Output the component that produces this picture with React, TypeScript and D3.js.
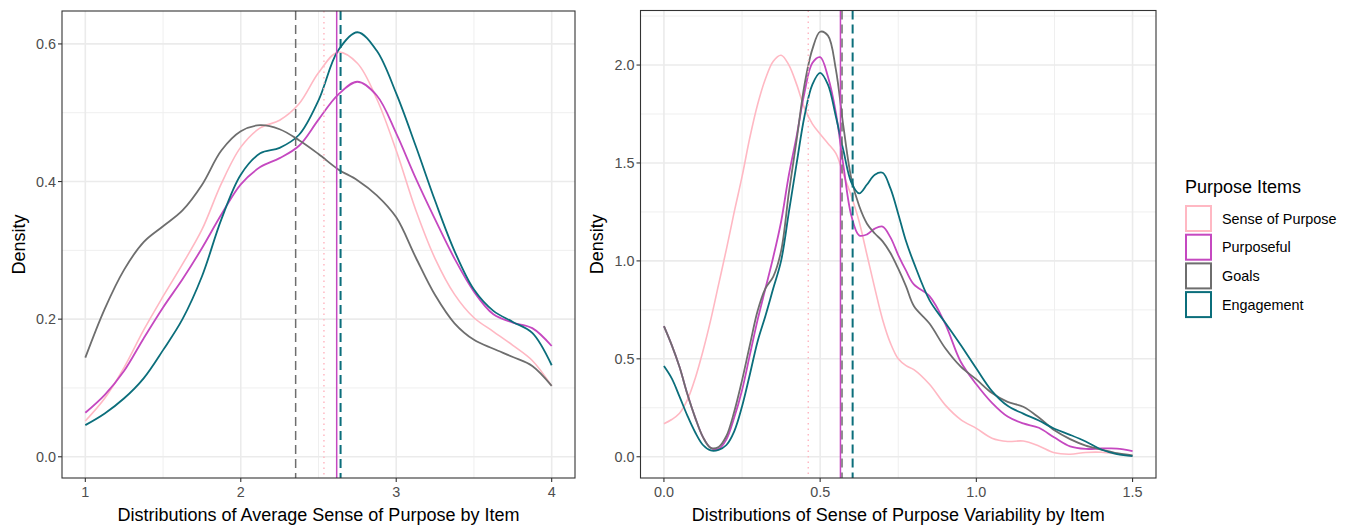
import React from "react";
import * as d3 from "d3";

// ---- data ----
const items = ["Sense of Purpose", "Purposeful", "Goals", "Engagement"];

// left panel: density of average sense of purpose
const avgX = [1, 1.125, 1.25, 1.375, 1.5, 1.625, 1.75, 1.875, 2, 2.125, 2.25, 2.375, 2.5,
  2.625, 2.75, 2.875, 3, 3.125, 3.25, 3.375, 3.5, 3.625, 3.75, 3.875, 4];
const avgSense = [0.052, 0.085, 0.13, 0.184, 0.233, 0.28, 0.33, 0.397, 0.45, 0.478, 0.489, 0.513, 0.558,
  0.588, 0.572, 0.52, 0.445, 0.359, 0.288, 0.236, 0.202, 0.182, 0.162, 0.14, 0.103];
const avgPurposeful = [0.064, 0.09, 0.125, 0.172, 0.217, 0.258, 0.303, 0.352, 0.396, 0.421, 0.434, 0.452, 0.49,
  0.526, 0.545, 0.525, 0.47, 0.405, 0.345, 0.288, 0.24, 0.207, 0.195, 0.187, 0.161];
const avgGoals = [0.144, 0.215, 0.272, 0.312, 0.335, 0.358, 0.395, 0.445, 0.473, 0.482, 0.476, 0.46, 0.44,
  0.418, 0.402, 0.38, 0.348, 0.29, 0.235, 0.194, 0.17, 0.157, 0.145, 0.132, 0.103];
const avgEngagement = [0.046, 0.063, 0.085, 0.114, 0.155, 0.2, 0.262, 0.345, 0.41, 0.441, 0.449, 0.468, 0.518,
  0.59, 0.617, 0.59, 0.528, 0.452, 0.372, 0.299, 0.243, 0.212, 0.196, 0.18, 0.133];
const avgMeans = [2.535, 2.617, 2.353, 2.642];

// right panel: density of sense of purpose variability
const varX = [0, 0.025, 0.05, 0.075, 0.1, 0.125, 0.15, 0.175, 0.2, 0.225, 0.25, 0.275, 0.3, 0.325, 0.35,
  0.375, 0.4, 0.425, 0.45, 0.475, 0.5, 0.525, 0.55, 0.575, 0.6, 0.625, 0.65, 0.675, 0.7, 0.725, 0.75,
  0.775, 0.8, 0.85, 0.9, 0.95, 1.0, 1.05, 1.1, 1.15, 1.2, 1.25, 1.3, 1.35, 1.4, 1.45, 1.5];
const varSense = [0.169, 0.19, 0.222, 0.29, 0.4, 0.54, 0.7, 0.88, 1.06, 1.25, 1.43, 1.63, 1.8, 1.93, 2.02,
  2.05, 2.0, 1.9, 1.78, 1.7, 1.648, 1.6, 1.55, 1.44, 1.33, 1.2, 1.03, 0.86, 0.7, 0.58, 0.5,
  0.465, 0.445, 0.37, 0.265, 0.19, 0.145, 0.095, 0.078, 0.08, 0.055, 0.02, 0.013, 0.022, 0.023, 0.014, 0.003];
const varPurposeful = [0.667, 0.57, 0.458, 0.32, 0.2, 0.1, 0.045, 0.04, 0.089, 0.2, 0.34, 0.52, 0.7, 0.86, 1.02,
  1.2, 1.44, 1.64, 1.86, 2.01, 2.04, 1.94, 1.76, 1.48, 1.23, 1.13, 1.135, 1.165, 1.175, 1.12, 1.03,
  0.95, 0.88, 0.82, 0.68, 0.485, 0.37, 0.275, 0.205, 0.17, 0.148, 0.098, 0.053, 0.04, 0.042, 0.042, 0.029];
const varGoals = [0.667, 0.57, 0.458, 0.32, 0.2, 0.1, 0.045, 0.05, 0.106, 0.23, 0.39, 0.57, 0.745, 0.86, 0.92,
  1.05, 1.35, 1.62, 1.9, 2.08, 2.17, 2.15, 1.98, 1.68, 1.42, 1.28, 1.19, 1.14, 1.1, 1.04, 0.96,
  0.87, 0.77, 0.68, 0.555, 0.46, 0.395, 0.325, 0.28, 0.255, 0.2, 0.135, 0.09, 0.057, 0.037, 0.018, 0.007];
const varEngagement = [0.463, 0.4, 0.307, 0.21, 0.125, 0.06, 0.032, 0.035, 0.06, 0.13, 0.257, 0.42, 0.59, 0.72, 0.86,
  1.0, 1.25, 1.5, 1.74, 1.9, 1.96, 1.9, 1.74, 1.56, 1.4, 1.345, 1.39, 1.44, 1.45, 1.37, 1.24,
  1.1, 0.99, 0.8, 0.685, 0.57, 0.45, 0.335, 0.26, 0.22, 0.185, 0.143, 0.112, 0.078, 0.037, 0.013, 0.003];
const varMeans = [0.462, 0.565, 0.57, 0.604];

const avgXTicks = [1, 2, 3, 4];
const avgXTickLabels = ["1", "2", "3", "4"];
const avgYTicks = [0, 0.2, 0.4, 0.6];
const avgYTickLabels = ["0.0", "0.2", "0.4", "0.6"];
const varXTicks = [0, 0.5, 1, 1.5];
const varXTickLabels = ["0.0", "0.5", "1.0", "1.5"];
const varYTicks = [0, 0.5, 1, 1.5, 2];
const varYTickLabels = ["0.0", "0.5", "1.0", "1.5", "2.0"];

// ---- styles ----
const colors = ["#FFB8C3", "#C548C0", "#6E6E6E", "#0B6E7B"];
const meanDash = ["1.5,4", null, "9,5", "9,5"];
const font = "'Liberation Sans', Arial, Helvetica, sans-serif";

type PanelProps = {
  id: string;
  left: number; right: number; top: number; bottom: number;
  xs: number[];
  series: number[][];
  means: number[];
  xTicks: number[]; xTickLabels: string[];
  yTicks: number[]; yTickLabels: string[];
  xTitle: string;
  yTitleX: number;
};

function Panel(p: PanelProps) {
  const xMin = d3.min(p.xs)!;
  const xMax = d3.max(p.xs)!;
  const xPad = (xMax - xMin) * 0.05;
  const yMax = d3.max(p.series.flat())!;
  const yPad = yMax * 0.05;
  const x = d3.scaleLinear().domain([xMin - xPad, xMax + xPad]).range([p.left, p.right]);
  const y = d3.scaleLinear().domain([-yPad, yMax + yPad]).range([p.bottom, p.top]);

  // minor grid sits half way between the major ticks
  const minor = (ticks: number[], dom: number[]) => {
    const step = ticks[1] - ticks[0];
    const out: number[] = [];
    for (let i = 0; i < ticks.length + 1; i++) {
      const v = ticks[0] + step * (i - 0.5);
      if (v > dom[0] && v < dom[1]) out.push(v);
    }
    return out;
  };
  const xMinor = minor(p.xTicks, x.domain());
  const yMinor = minor(p.yTicks, y.domain());

  const line = d3.line<number>()
    .x((_, i) => x(p.xs[i]))
    .y((d) => y(d))
    .curve(d3.curveCatmullRom.alpha(0.5));

  const cx = (p.left + p.right) / 2;
  const cy = (p.top + p.bottom) / 2;

  return (
    <g>
      <defs>
        <clipPath id={p.id}>
          <rect x={p.left} y={p.top} width={p.right - p.left} height={p.bottom - p.top} />
        </clipPath>
      </defs>
      <rect x={p.left} y={p.top} width={p.right - p.left} height={p.bottom - p.top} fill="white" />
      {xMinor.map((v) => (
        <line key={"xm" + v} x1={x(v)} x2={x(v)} y1={p.top} y2={p.bottom} stroke="#EFEFEF" strokeWidth={1} />
      ))}
      {yMinor.map((v) => (
        <line key={"ym" + v} x1={p.left} x2={p.right} y1={y(v)} y2={y(v)} stroke="#EFEFEF" strokeWidth={1} />
      ))}
      {p.xTicks.map((v) => (
        <line key={"xg" + v} x1={x(v)} x2={x(v)} y1={p.top} y2={p.bottom} stroke="#EBEBEB" strokeWidth={1.6} />
      ))}
      {p.yTicks.map((v) => (
        <line key={"yg" + v} x1={p.left} x2={p.right} y1={y(v)} y2={y(v)} stroke="#EBEBEB" strokeWidth={1.6} />
      ))}
      <g clipPath={`url(#${p.id})`}>
        {p.series.map((s, i) => (
          <path key={"c" + i} d={line(s) || ""} fill="none" stroke={colors[i]} strokeWidth={i === 0 ? 1.6 : 1.8} />
        ))}
        {p.means.map((m, i) => (
          <line key={"m" + i} x1={x(m)} x2={x(m)} y1={p.top} y2={p.bottom}
            stroke={colors[i]} strokeWidth={i === 3 ? 2 : 1.5}
            strokeDasharray={meanDash[i] || undefined} />
        ))}
      </g>
      <rect x={p.left} y={p.top} width={p.right - p.left} height={p.bottom - p.top}
        fill="none" stroke="#333333" strokeWidth={1.1} />
      {p.xTicks.map((v, i) => (
        <g key={"xt" + v}>
          <line x1={x(v)} x2={x(v)} y1={p.bottom} y2={p.bottom + 4} stroke="#333333" strokeWidth={1.1} />
          <text x={x(v)} y={p.bottom + 18.5} textAnchor="middle" fontSize={14.4} fill="#4D4D4D" fontFamily={font}>
            {p.xTickLabels[i]}
          </text>
        </g>
      ))}
      {p.yTicks.map((v, i) => (
        <g key={"yt" + v}>
          <line x1={p.left - 4} x2={p.left} y1={y(v)} y2={y(v)} stroke="#333333" strokeWidth={1.1} />
          <text x={p.left - 6} y={y(v)} dy="0.36em" textAnchor="end" fontSize={14.4} fill="#4D4D4D" fontFamily={font}>
            {p.yTickLabels[i]}
          </text>
        </g>
      ))}
      <text x={cx} y={521} textAnchor="middle" fontSize={18} fill="black" fontFamily={font}>{p.xTitle}</text>
      <text transform={`translate(${p.yTitleX},${cy}) rotate(-90)`} textAnchor="middle" fontSize={18}
        fill="black" fontFamily={font}>Density</text>
    </g>
  );
}

export default function App() {
  const legendTop = 205;
  const legendStep = 28.7;
  return (
    <svg width={1354} height={530} style={{ position: "absolute", left: 0, top: 0, background: "white" }}>
      <rect width={1354} height={530} fill="white" />
      <Panel id="clipA" left={62} right={575} top={11} bottom={478}
        xs={avgX} series={[avgSense, avgPurposeful, avgGoals, avgEngagement]} means={avgMeans}
        xTicks={avgXTicks} xTickLabels={avgXTickLabels} yTicks={avgYTicks} yTickLabels={avgYTickLabels}
        xTitle="Distributions of Average Sense of Purpose by Item" yTitleX={25} />
      <Panel id="clipB" left={640.5} right={1156} top={10.5} bottom={478}
        xs={varX} series={[varSense, varPurposeful, varGoals, varEngagement]} means={varMeans}
        xTicks={varXTicks} xTickLabels={varXTickLabels} yTicks={varYTicks} yTickLabels={varYTickLabels}
        xTitle="Distributions of Sense of Purpose Variability by Item" yTitleX={603} />
      <g>
        <text x={1185} y={193} fontSize={18} fill="black" fontFamily={font}>Purpose Items</text>
        {items.map((name, i) => (
          <g key={name}>
            <rect x={1186} y={legendTop + i * legendStep + 1} width={25} height={25}
              fill="white" stroke={colors[i]} strokeWidth={2} />
            <text x={1222} y={legendTop + i * legendStep + 13.5} dy="0.36em" fontSize={14.4}
              fill="black" fontFamily={font}>{name}</text>
          </g>
        ))}
      </g>
    </svg>
  );
}
